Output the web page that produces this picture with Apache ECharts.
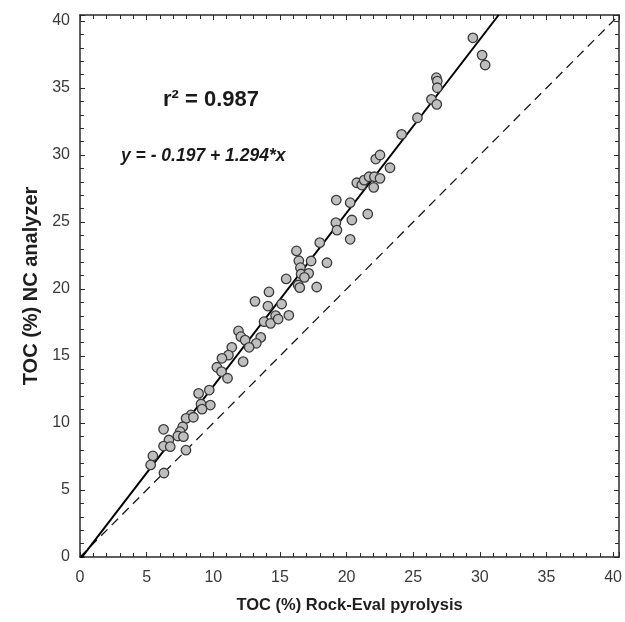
<!DOCTYPE html>
<html>
<head>
<meta charset="utf-8">
<script src="https://cdn.jsdelivr.net/npm/echarts@6/dist/echarts.min.js"></script>
<style>
  html, body { margin: 0; padding: 0; background: #ffffff; }
  #chart { width: 625px; height: 622px; }
</style>
</head>
<body>
<div id="chart"></div>
<script>
// TOC measured by Rock-Eval pyrolysis (x) and by the NC analyzer (y), in %
const tocRockEval = [
  11.89, 12.07, 12.39, 13.56, 13.23, 12.69, 11.39, 11.14, 12.24, 10.65, 10.27,
  10.62, 11.07, 9.7, 8.9, 9.08, 9.78, 9.16, 8.33, 7.96, 8.51, 7.71, 6.27, 7.51,
  7.34, 7.76, 6.67, 6.27, 6.77, 7.95, 5.47, 5.3, 6.3,
  20.77, 21.14, 21.32, 21.69, 22.09, 22.51, 22.04, 19.23, 20.27, 21.59, 19.2,
  20.4, 19.28, 20.27, 17.99, 16.24, 16.42, 17.34, 18.53, 16.54, 16.59, 17.16,
  16.84, 15.47, 16.37, 16.49, 17.76, 14.18, 13.13, 14.1, 15.13, 14.68, 15.67,
  13.81, 14.3, 14.87,
  26.74, 26.81, 26.81, 26.37, 26.77, 25.32, 24.13, 29.48, 30.17, 30.4,
  22.19, 22.51, 23.26
];
const tocNcAnalyzer = [
  16.87, 16.44, 16.19, 16.39, 15.95, 15.65, 15.65, 15.07, 14.58, 14.83, 14.16,
  13.83, 13.34, 12.46, 12.21, 11.42, 11.34, 11.04, 10.6, 10.35, 10.43, 9.72, 9.53, 9.35,
  9.03, 8.98, 8.73, 8.28, 8.23, 7.97, 7.54, 6.87, 6.27,
  27.93, 27.76, 28.13, 28.38, 28.38, 28.26, 27.59, 26.64, 26.44, 25.6, 24.95,
  25.15, 24.4, 23.71, 23.46, 22.84, 22.11, 22.09, 21.96, 21.59, 21.12, 21.17,
  20.87, 20.75, 20.3, 20.1, 20.15, 19.78, 19.08, 18.73, 18.88, 18.01, 18.04,
  17.56, 17.44, 17.76,
  35.77, 35.52, 35.02, 34.16, 33.78, 32.78, 31.54, 38.75, 37.46, 36.72,
  29.7, 30.0, 29.05
];

// Least-squares fit reported on the chart
const fitIntercept = -0.197;
const fitSlope = 1.294;
const fitR2 = 0.987;

// Axis tick labels
const tickLabels = [0, 5, 10, 15, 20, 25, 30, 35, 40];

const AXIS_MAX = 40.45;

const points = tocRockEval.map((x, i) => [x, tocNcAnalyzer[i]]);

// Regression line across the plot, clipped to the frame
const fitXEnd = (AXIS_MAX - fitIntercept) / fitSlope;
const fitLine = [[0, fitIntercept], [fitXEnd, fitIntercept + fitSlope * fitXEnd]];
// 1:1 reference line
const identityLine = [[0, 0], [AXIS_MAX, AXIS_MAX]];

const FONT = '"Liberation Sans", Arial, Helvetica, sans-serif';
const frameColor = '#2b2b2b';

function tickFormatter(v) {
  return tickLabels.indexOf(v) >= 0 ? String(v) : '';
}

function makeAxis(pos, isX, showLabels) {
  const ax = {
    type: 'value',
    position: pos,
    min: 0,
    max: AXIS_MAX,
    interval: 5,
    splitLine: { show: false },
    axisLine: { show: true, onZero: false, lineStyle: { color: frameColor, width: 1.5 } },
    axisTick: { show: true, inside: true, length: 5, lineStyle: { color: frameColor, width: 1 } },
    minorTick: { show: true, splitNumber: 5, length: 4, lineStyle: { color: frameColor, width: 1 } },
    axisLabel: {
      show: showLabels,
      formatter: tickFormatter,
      fontFamily: FONT,
      fontSize: 16,
      color: '#3a3a3a',
      margin: isX ? 13 : 10,
      showMaxLabel: false
    }
  };
  if (showLabels) {
    ax.name = isX ? 'TOC (%) Rock-Eval pyrolysis' : 'TOC (%) NC analyzer';
    ax.nameLocation = 'middle';
    ax.nameGap = isX ? 40 : 39;
    ax.nameTextStyle = {
      fontFamily: FONT, fontSize: isX ? 16.5 : 20, fontWeight: 'bold', color: '#1e1e1e'
    };
  }
  return ax;
}

const chart = echarts.init(document.getElementById('chart'), null, { renderer: 'canvas' });

chart.setOption({
  backgroundColor: '#ffffff',
  animation: false,
  grid: { left: 80, top: 15, width: 542, height: 542, containLabel: false },
  xAxis: [makeAxis('bottom', true, true), makeAxis('top', true, false)],
  yAxis: [makeAxis('left', false, true), makeAxis('right', false, false)],
  graphic: [
    {
      type: 'text',
      left: 163, top: 89,
      style: {
        text: 'r\u00B2 = ' + fitR2.toFixed(3),
        fontFamily: FONT, fontSize: 22, fontWeight: 'bold', fill: '#1a1a1a'
      }
    },
    {
      type: 'text',
      left: 121, top: 147,
      style: {
        text: 'y = - ' + Math.abs(fitIntercept).toFixed(3) + ' + ' + fitSlope.toFixed(3) + '*x',
        fontFamily: FONT, fontSize: 17.5, fontWeight: 'bold', fontStyle: 'italic', fill: '#1a1a1a'
      }
    }
  ],
  series: [
    {
      type: 'line',
      data: identityLine,
      xAxisIndex: 0, yAxisIndex: 0,
      symbol: 'none',
      clip: true,
      lineStyle: { color: '#1a1a1a', width: 1.3, type: [9, 6] },
      silent: true,
      z: 2
    },
    {
      type: 'line',
      data: fitLine,
      xAxisIndex: 0, yAxisIndex: 0,
      symbol: 'none',
      clip: true,
      lineStyle: { color: '#000000', width: 2 },
      silent: true,
      z: 3
    },
    {
      type: 'scatter',
      data: points,
      xAxisIndex: 0, yAxisIndex: 0,
      symbol: 'circle',
      symbolSize: 9.5,
      itemStyle: { color: '#bfbfbf', borderColor: '#3a3a3a', borderWidth: 1.3, opacity: 1 },
      z: 4
    }
  ]
});
</script>
</body>
</html>
